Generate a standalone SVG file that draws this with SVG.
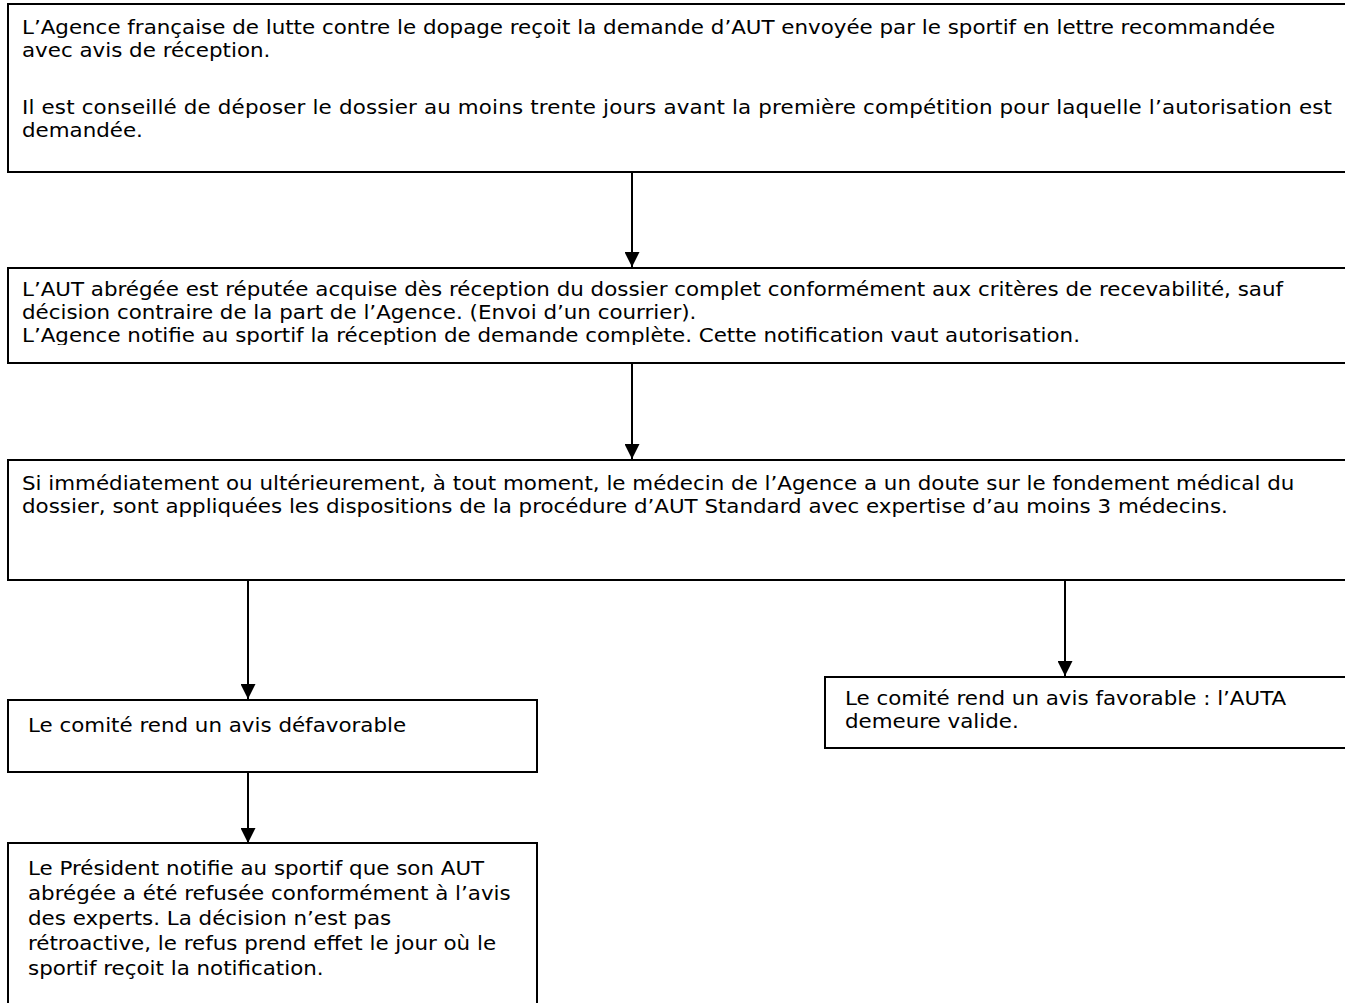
<svg xmlns="http://www.w3.org/2000/svg" width="1345" height="1003" viewBox="0 0 1345 1003">
<defs>
<style>
.box{fill:#fff;stroke:#000;stroke-width:2}
.t{font-family:"DejaVu Sans",Verdana,sans-serif;font-size:21.4px;fill:#000}
.c{stroke:#000;stroke-width:2;fill:none}
</style>
<marker id="ah" markerUnits="userSpaceOnUse" markerWidth="15" markerHeight="15" viewBox="0 0 15 15" refX="15" refY="7.5" orient="auto">
<path d="M0,0 L15,7.5 L0,15 Z" fill="#000"/>
</marker>
<clipPath id="clip2"><rect x="8" y="268" width="1345" height="77"/></clipPath>
</defs>
<g id="connectors">
<line class="c" x1="632" y1="172" x2="632" y2="267" marker-end="url(#ah)"/>
<line class="c" x1="632" y1="363" x2="632" y2="459" marker-end="url(#ah)"/>
<line class="c" x1="248" y1="580" x2="248" y2="699" marker-end="url(#ah)"/>
<line class="c" x1="1065" y1="580" x2="1065" y2="676" marker-end="url(#ah)"/>
<line class="c" x1="248" y1="772" x2="248" y2="843" marker-end="url(#ah)"/>
</g>
<g id="n1">
<rect class="box" x="8" y="4" width="1345" height="168"/>
<text class="t" transform="translate(22,34) scale(1,0.92)"><tspan x="0" y="0">L’Agence française de lutte contre le dopage reçoit la demande d’AUT envoyée par le sportif en lettre recommandée</tspan><tspan x="0" y="25">avec avis de réception.</tspan></text>
<text class="t" transform="translate(22,114) scale(1,0.92)"><tspan x="0" y="0" textLength="1310" lengthAdjust="spacing">Il est conseillé de déposer le dossier au moins trente jours avant la première compétition pour laquelle l’autorisation est</tspan><tspan x="0" y="25">demandée.</tspan></text>
</g>
<g id="n2">
<rect class="box" x="8" y="268" width="1345" height="95"/>
<g clip-path="url(#clip2)">
<text class="t" transform="translate(22,296) scale(1,0.92)"><tspan x="0" y="0">L’AUT abrégée est réputée acquise dès réception du dossier complet conformément aux critères de recevabilité, sauf</tspan><tspan x="0" y="25">décision contraire de la part de l’Agence. (Envoi d’un courrier).</tspan><tspan x="0" y="50">L’Agence notifie au sportif la réception de demande complète. Cette notification vaut autorisation.</tspan></text>
</g>
</g>
<g id="n3">
<rect class="box" x="8" y="460" width="1345" height="120"/>
<text class="t" transform="translate(22,490) scale(1,0.92)"><tspan x="0" y="0">Si immédiatement ou ultérieurement, à tout moment, le médecin de l’Agence a un doute sur le fondement médical du</tspan><tspan x="0" y="25">dossier, sont appliquées les dispositions de la procédure d’AUT Standard avec expertise d’au moins 3 médecins.</tspan></text>
</g>
<g id="n4">
<rect class="box" x="8" y="700" width="529" height="72"/>
<text class="t" transform="translate(28,732) scale(1,0.92)"><tspan x="0" y="0">Le comité rend un avis défavorable</tspan></text>
</g>
<g id="n5">
<rect class="box" x="825" y="677" width="530" height="71"/>
<text class="t" transform="translate(845,705) scale(1,0.92)"><tspan x="0" y="0">Le comité rend un avis favorable : l’AUTA</tspan><tspan x="0" y="25">demeure valide.</tspan></text>
</g>
<g id="n6">
<rect class="box" x="8" y="843" width="529" height="170"/>
<text class="t" transform="translate(28,875) scale(1,0.92)"><tspan x="0" y="0">Le Président notifie au sportif que son AUT</tspan><tspan x="0" y="27.2">abrégée a été refusée conformément à l’avis</tspan><tspan x="0" y="54.3">des experts. La décision n’est pas</tspan><tspan x="0" y="81.5">rétroactive, le refus prend effet le jour où le</tspan><tspan x="0" y="108.7">sportif reçoit la notification.</tspan></text>
</g>
</svg>
